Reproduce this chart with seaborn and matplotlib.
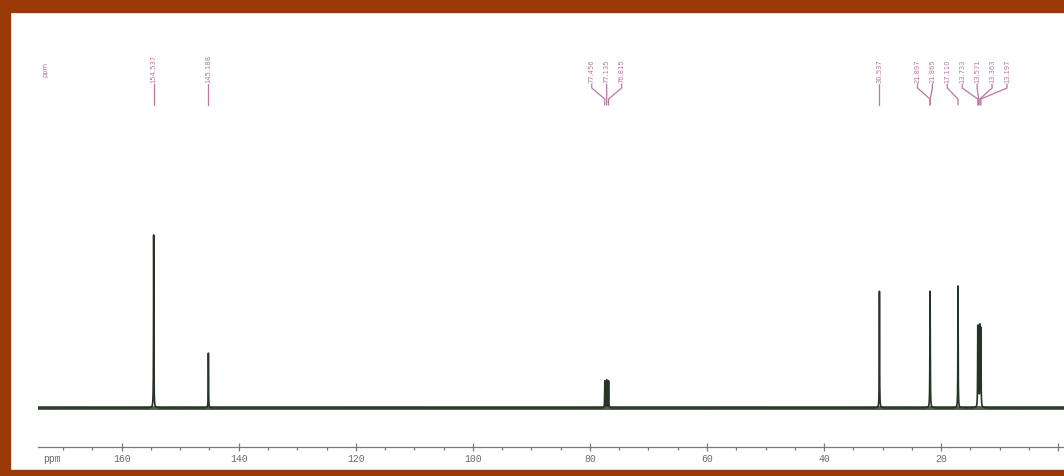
import numpy as np
import pandas as pd
import matplotlib
matplotlib.use("Agg")
import matplotlib.pyplot as plt
from matplotlib.patches import Rectangle
from matplotlib.ticker import MultipleLocator
import seaborn as sns

# 13C chemical shifts (ppm) and relative peak intensities
shifts = [154.537, 145.188, 77.456, 77.135, 76.815, 30.537,
          21.897, 21.865, 17.110, 13.733, 13.571, 13.363, 13.197]
intensities = [174, 55, 27, 28, 27, 117,
               75, 75, 122, 80, 78, 80, 78]
shift_labels = ["154.537", "145.188", "77.456", "77.135", "76.815", "30.537",
                "21.897", "21.865", "17.110", "13.733", "13.571", "13.363", "13.197"]
axis_ticks = [160, 140, 120, 100, 80, 60, 40, 20, 0]
axis_tick_labels = ["160", "140", "120", "100", "80", "60", "40", "20", ""]

W, H = 1064, 476
PPM_LEFT, PPM_RIGHT = 174.3, -1.0
HWHM = 0.03          # Lorentzian half width (ppm)
LABEL_GAP = 2.55     # min spacing between peak labels (ppm)

LINE_COLOR = "#263326"
LABEL_COLOR = "#b8789f"
AXIS_COLOR = "#7a7a7a"
FRAME_COLOR = "#9b3a09"

# build the spectrum as a sum of Lorentzian lines
ppm = np.linspace(PPM_LEFT, PPM_RIGHT, 36000)
signal = np.zeros_like(ppm)
for s, h in zip(shifts, intensities):
    signal += h / (1.0 + ((ppm - s) / HWHM) ** 2)
spec = pd.DataFrame({"ppm": ppm, "intensity": signal})

sns.set_theme(style="white")
plt.rcParams["font.family"] = ["DejaVu Sans"]

fig = plt.figure(figsize=(W / 100, H / 100), dpi=100, facecolor="white")
ax = fig.add_axes([38 / W, (H - 447) / H, (W - 38) / W, 427 / H])
ax.set_facecolor("white")

# noisy-looking baseline band under the trace
ax.plot([PPM_LEFT, PPM_RIGHT], [0, 0], color="#334333", lw=2.8, alpha=0.85,
        solid_capstyle="butt", zorder=1)
sns.lineplot(data=spec, x="ppm", y="intensity", ax=ax, color=LINE_COLOR,
             linewidth=1.2, estimator=None, sort=False, zorder=2)

ax.set_xlim(PPM_LEFT, PPM_RIGHT)
ax.set_ylim(-39, 388)
ax.set_xlabel("")
ax.set_ylabel("")
ax.set_yticks([])
for side in ("top", "right", "left"):
    ax.spines[side].set_visible(False)
ax.spines["bottom"].set_color(AXIS_COLOR)
ax.spines["bottom"].set_linewidth(0.9)
ax.set_xticks(axis_ticks)
ax.set_xticklabels(axis_tick_labels, family="Liberation Mono", fontsize=7,
                   color="#6a6a6a")
ax.xaxis.set_minor_locator(MultipleLocator(5))
ax.tick_params(axis="x", which="major", direction="inout", length=6,
               width=0.9, color=AXIS_COLOR, pad=2, bottom=True)
ax.tick_params(axis="x", which="minor", direction="out", length=2,
               width=0.9, color=AXIS_COLOR, bottom=True)
fig.text(52 / W, (H - 459) / H, "ppm", family="Liberation Mono", fontsize=7,
         color="#6a6a6a", ha="center", va="center")


# spread the peak labels so they do not collide
def spread(values, gap):
    order = np.argsort(values)[::-1]
    vals = np.asarray(values)[order]
    groups = [[i] for i in range(len(vals))]
    while True:
        pos = []
        for g in groups:
            c = np.mean(vals[g])
            n = len(g)
            pos.append([c + gap * ((n - 1) / 2 - k) for k in range(n)])
        merged = False
        for i in range(len(groups) - 1):
            if pos[i][-1] - pos[i + 1][0] < gap - 1e-9:
                groups[i] = groups[i] + groups[i + 1]
                del groups[i + 1]
                merged = True
                break
        if not merged:
            break
    flat = [p for grp in pos for p in grp]
    out = np.empty(len(vals))
    out[order] = flat
    return out


label_pos = spread(shifts, LABEL_GAP)

# y levels of the label leaders (data units = pixels above baseline)
Y_TEXT, Y_KNEE1, Y_KNEE2, Y_END = 325, 320, 309, 303
for s, lx, txt in zip(shifts, label_pos, shift_labels):
    ax.plot([lx, lx, s, s], [Y_TEXT - 1, Y_KNEE1, Y_KNEE2, Y_END],
            color=LABEL_COLOR, lw=0.9, zorder=3)
    ax.text(lx, Y_TEXT, txt, rotation=90, ha="center", va="bottom",
            fontsize=4.9, color=LABEL_COLOR, zorder=3)
ax.text(173.0, 331, "ppm", rotation=90, ha="center", va="bottom",
        fontsize=4.9, color=LABEL_COLOR)

# frame around the picture
fig.add_artist(Rectangle((0, 1 - 12 / H), 1, 12 / H, transform=fig.transFigure,
                         color=FRAME_COLOR, zorder=10))
fig.add_artist(Rectangle((0, 0), 10 / W, 1, transform=fig.transFigure,
                         color=FRAME_COLOR, zorder=10))
fig.add_artist(Rectangle((0, 0), 1, 6 / H, transform=fig.transFigure,
                         color=FRAME_COLOR, zorder=10))

fig.savefig("out.png", dpi=100, facecolor="white")
